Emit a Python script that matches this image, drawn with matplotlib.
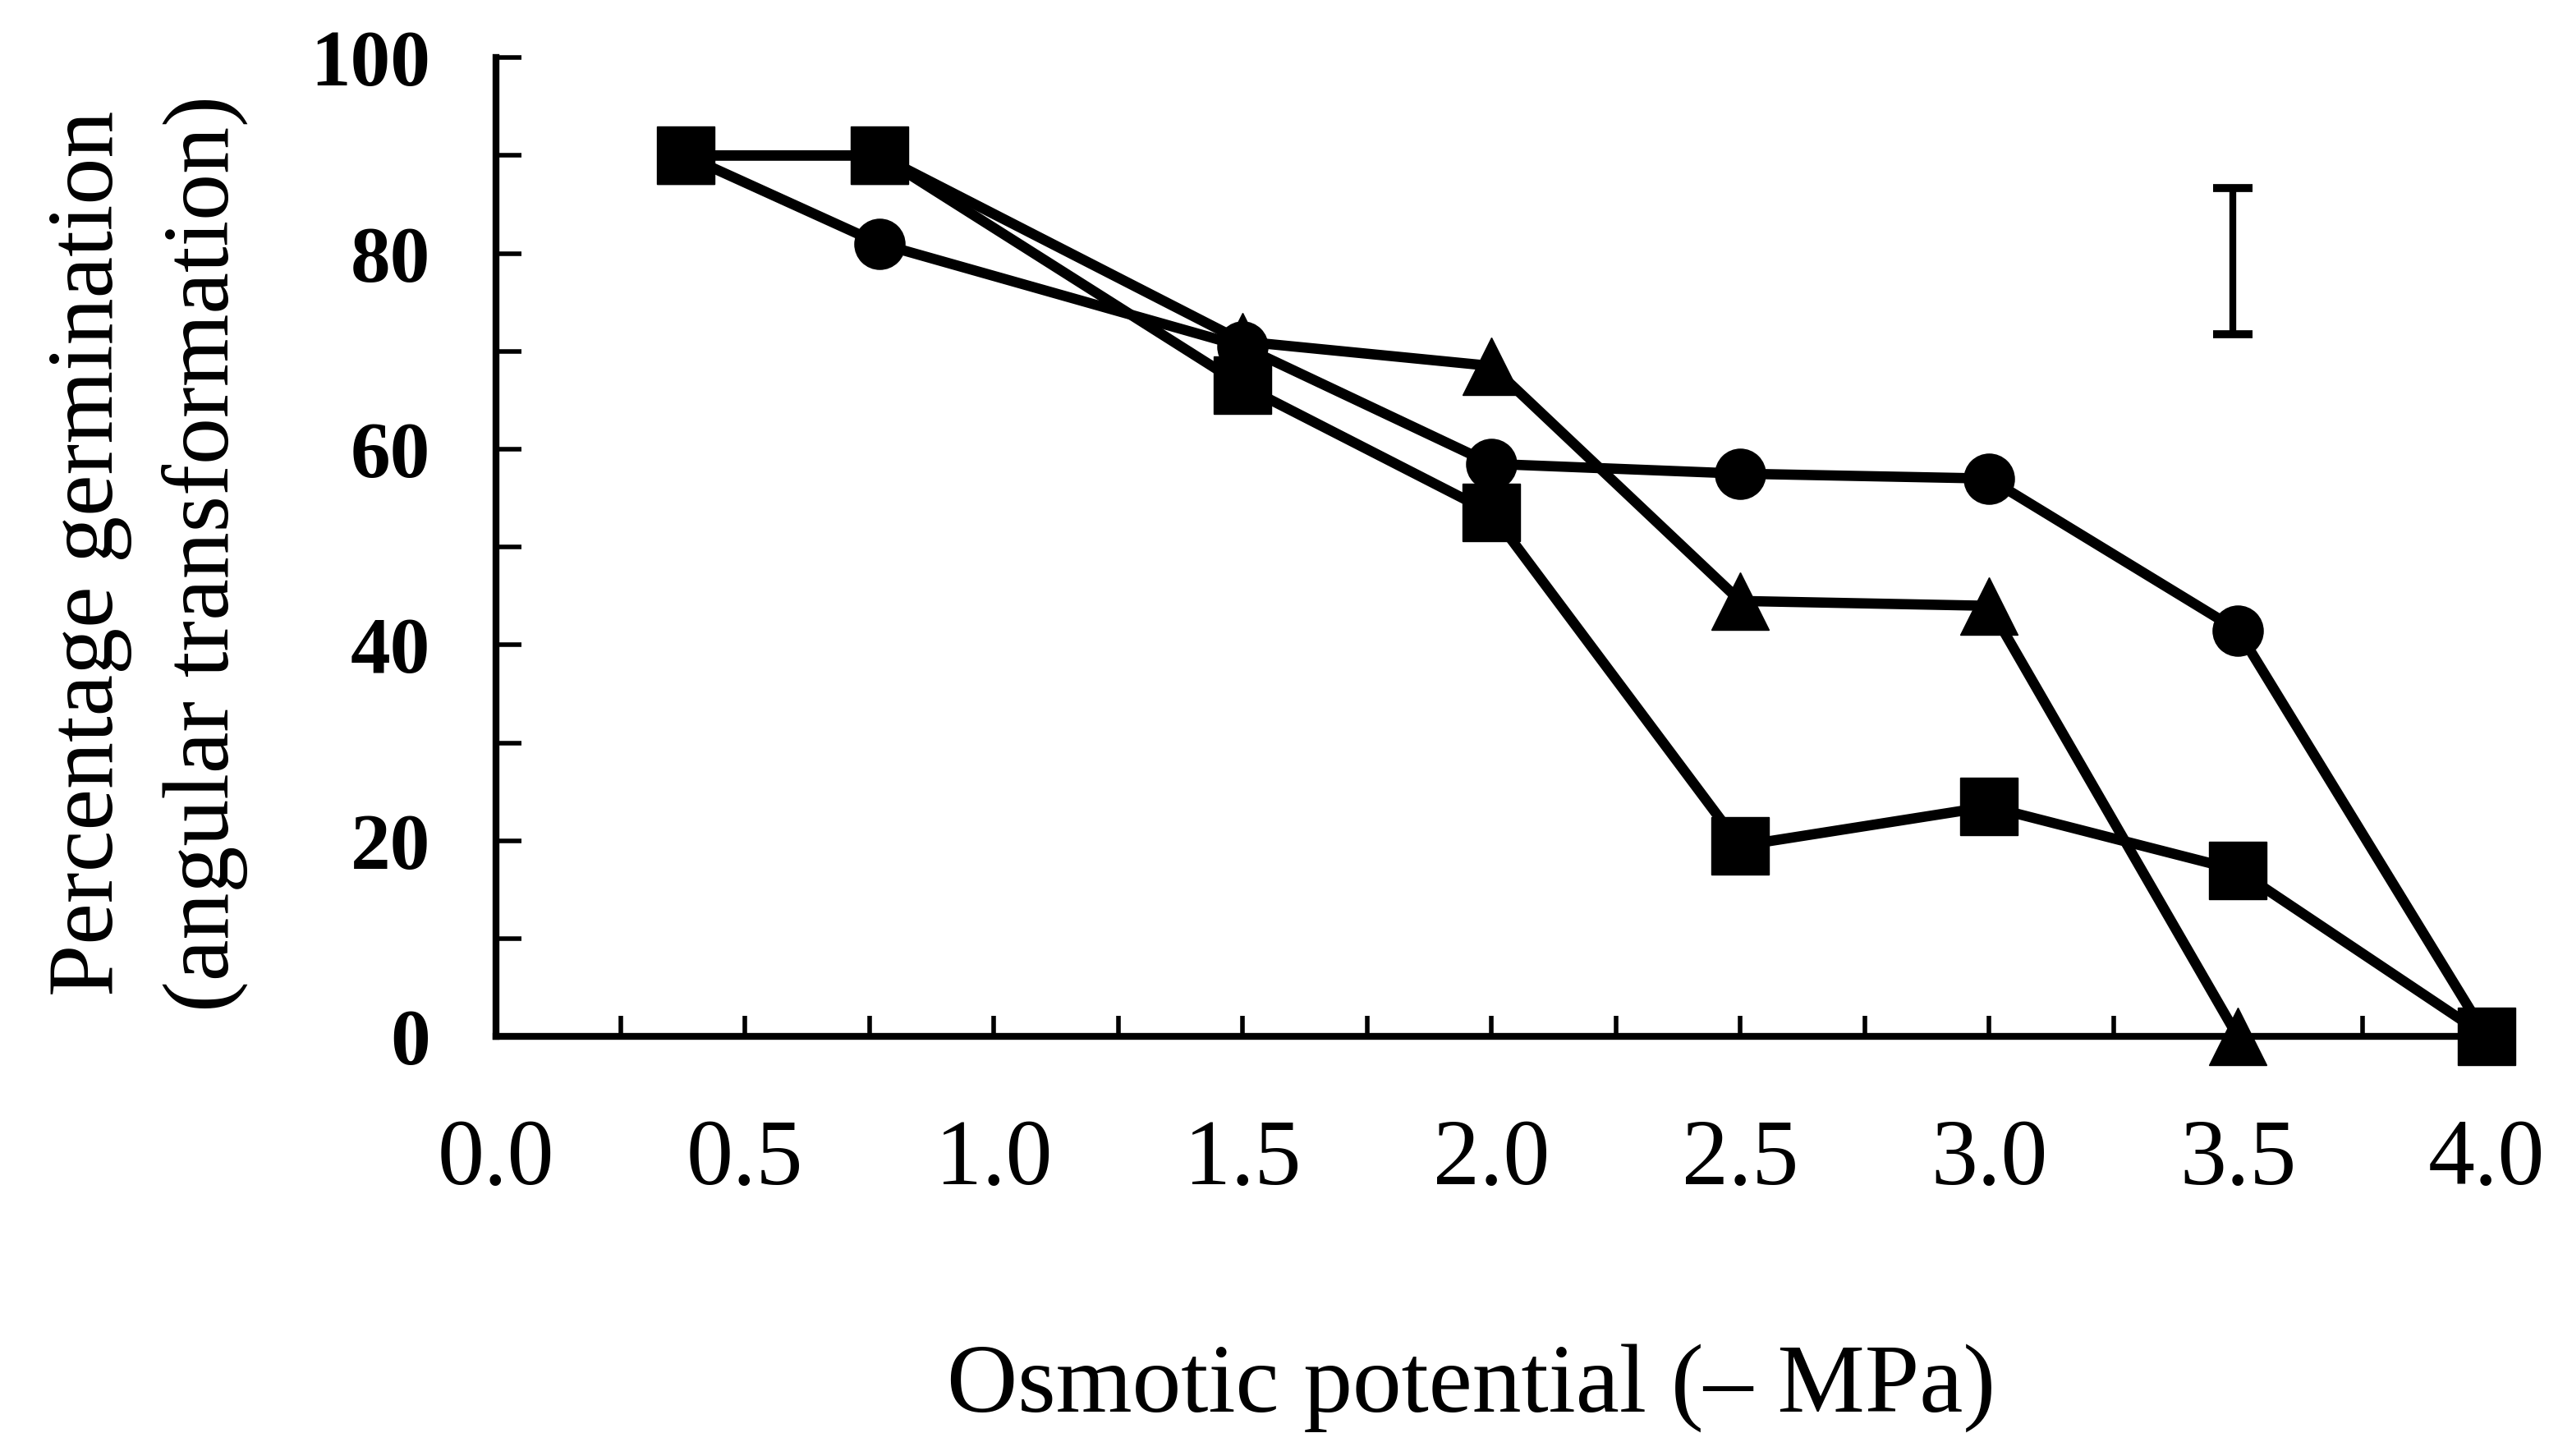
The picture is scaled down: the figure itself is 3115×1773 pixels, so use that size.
import numpy as np
import matplotlib.pyplot as plt
from matplotlib.ticker import MultipleLocator

# osmotic potential (-MPa) and germination (angular transformation)
x = [0.38, 0.77, 1.5, 2.0, 2.5, 3.0, 3.5, 4.0]
squares = [90, 90, 66.5, 53.5, 19.5, 23.5, 17, 0]
circles = [90, 81, 70.5, 58.5, 57.5, 57, 41.5, 0]
x_tri = [0.38, 0.77, 1.5, 2.0, 2.5, 3.0, 3.5]
triangles = [90, 90, 71, 68.5, 44.5, 44, 0]

# LSD bar
lsd_x = 3.49
lsd_y = 79.2
lsd_half = 7.5

xticks = [0.0, 0.5, 1.0, 1.5, 2.0, 2.5, 3.0, 3.5, 4.0]
yticks = [0, 20, 40, 60, 80, 100]

plt.rcParams['font.family'] = ['Liberation Serif', 'DejaVu Serif']

fig = plt.figure(figsize=(31.15, 17.73), dpi=100)
ax = fig.add_axes([0.194, 0.288, 0.782, 0.6725])

lw = 9
ax.plot(x, circles, color='black', lw=lw, marker='o', ms=44, zorder=3,
        clip_on=False)
ax.plot(x_tri, triangles, color='black', lw=lw, marker='^', ms=50, zorder=3,
        clip_on=False)
ax.plot(x, squares, color='black', lw=lw, marker='s', ms=50, zorder=4,
        clip_on=False)

ax.errorbar([lsd_x], [lsd_y], yerr=[lsd_half], color='black', lw=6,
            capsize=17, capthick=7, fmt='none')

ax.set_xlim(0, 4.02)
ax.set_ylim(0, 100)
ax.set_xticks(xticks)
ax.set_xticklabels(['%.1f' % v for v in xticks])
ax.set_yticks(yticks)
ax.xaxis.set_minor_locator(MultipleLocator(0.25))
ax.yaxis.set_minor_locator(MultipleLocator(10))

for s in ['top', 'right']:
    ax.spines[s].set_visible(False)
for s in ['left', 'bottom']:
    ax.spines[s].set_linewidth(6)

ax.tick_params(axis='y', which='both', direction='in', length=22, width=4,
               pad=58, labelsize=70)
ax.tick_params(axis='x', which='both', direction='in', length=18, width=4,
               pad=72, labelsize=82)
for lab in ax.get_yticklabels():
    lab.set_fontweight('bold')

fig.text(0.575, 0.047, 'Osmotic potential (\u2013 MPa)', ha='center', va='center',
         fontsize=86)
fig.text(0.035, 0.62, 'Percentage germination', rotation=90, ha='center',
         va='center', fontsize=82)
fig.text(0.080, 0.62, '(angular transformation)', rotation=90, ha='center',
         va='center', fontsize=82)

fig.savefig('out.png', dpi=100)
